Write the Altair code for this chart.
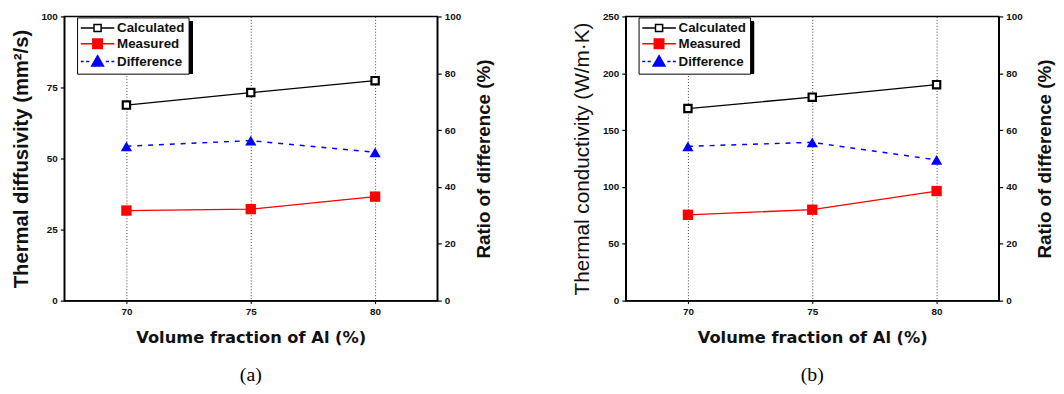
import altair as alt
import pandas as pd

# ---- data ----
vol_frac = [70, 75, 80]
series_names = ["Calculated", "Measured", "Difference"]

a_calculated = [68.8, 73.2, 77.4]
a_measured = [31.7, 32.2, 36.6]
a_difference = [54.3, 56.3, 52.2]

b_calculated = [169, 179, 190]
b_measured = [75.5, 80.0, 96.4]
b_difference = [54.3, 55.7, 49.5]

FONT = "Liberation Sans"
W, H = 378, 288

stroke_range = ["#000000", "#ff0000", "#0000ff"]
fill_range = ["#ffffff", "#ff0000", "#0000ff"]
shape_range = [
    "M-4.25,0 L-1.1,0 M1.1,0 L4.25,0 M-0.9,-0.9 L0.9,-0.9 L0.9,0.9 L-0.9,0.9 Z",
    "M-4.25,0 L-1.2,0 M1.2,0 L4.25,0 M-1.2,-1.2 L1.2,-1.2 L1.2,1.2 L-1.2,1.2 Z",
    "M-4.25,0 L-3.5,0 M-2.9,0 L-2.1,0 M2.1,0 L2.9,0 M3.5,0 L4.25,0 M0,-1.5 L1.5,1.1 L-1.5,1.1 Z",
]


def panel(calc, meas, diff, ymax, ystep, ylabel_step, ytitle, ytitle_weight,
          ytitle_size, caption):
    df = pd.DataFrame({
        "x": vol_frac * 3,
        "v": calc + meas + diff,
        "series": [s for s in series_names for _ in vol_frac],
    })
    base = alt.Chart(df)

    xenc = alt.X(
        "x:Q",
        scale=alt.Scale(domain=[67.5, 82.5], nice=False, zero=False),
        axis=alt.Axis(
            values=vol_frac, grid=True, gridDash=[1, 2], gridColor="#444444",
            gridWidth=1, title="Volume fraction of Al (%)", titleFont="DejaVu Sans",
            titleFontSize=16.5, titleFontWeight="bold", titleColor="#111111",
            titlePadding=13, labelFont=FONT, labelFontSize=10, labelFontWeight="bold",
            labelColor="#111111", labelPadding=3, tickSize=3, tickColor="#000000",
            domainColor="#000000", domainWidth=1.5,
        ),
    )

    left_vals = [i * ystep for i in range(int(round(ymax / ystep)) + 1)]
    yleft = alt.Y(
        "v:Q",
        scale=alt.Scale(domain=[0, ymax], nice=False),
        axis=alt.Axis(
            values=left_vals,
            labelExpr=f"datum.value % {ylabel_step} === 0 ? datum.label : ''",
            title=ytitle, titleFont=FONT, titleFontSize=ytitle_size,
            titleFontWeight=ytitle_weight, titleColor="#111111", titlePadding=10,
            labelFont=FONT, labelFontSize=10, labelFontWeight="bold",
            labelColor="#111111", labelPadding=3, tickSize=4, tickColor="#000000",
            tickWidth=1.2, domainColor="#000000", domainWidth=1.5, grid=False,
        ),
    )
    yright = alt.Y(
        "v:Q",
        scale=alt.Scale(domain=[0, 100], nice=False),
        axis=alt.Axis(
            orient="right", values=list(range(0, 101, 10)),
            labelExpr="datum.value % 20 === 0 ? datum.label : ''",
            title="Ratio of difference (%)", titleAngle=270, titleBaseline="top",
            titleFont=FONT, titleFontSize=19, titleFontWeight="bold",
            titleColor="#111111", titlePadding=14, labelFont=FONT, labelFontSize=10,
            labelFontWeight="bold", labelColor="#111111", labelPadding=3,
            tickSize=4, tickColor="#000000", tickWidth=1.2, domainColor="#000000",
            domainWidth=1.5, grid=False,
        ),
    )

    calc_line = base.transform_filter("datum.series === 'Calculated'").mark_line(
        color="#000000", strokeWidth=1.3).encode(x=xenc, y=yleft)
    calc_pt = base.transform_filter("datum.series === 'Calculated'").mark_point(
        shape="square", size=55, filled=True, fill="#ffffff", stroke="#000000",
        strokeWidth=2.2, opacity=1).encode(x="x:Q", y="v:Q")
    meas_line = base.transform_filter("datum.series === 'Measured'").mark_line(
        color="#ff0000", strokeWidth=1.3).encode(x="x:Q", y="v:Q")
    meas_pt = base.transform_filter("datum.series === 'Measured'").mark_point(
        shape="square", size=110, filled=True, color="#ff0000", opacity=1).encode(
        x="x:Q", y="v:Q")
    diff_line = base.transform_filter("datum.series === 'Difference'").mark_line(
        color="#0000ff", strokeWidth=1.5, strokeDash=[5, 6]).encode(x=xenc, y=yright)
    diff_pt = base.transform_filter("datum.series === 'Difference'").mark_point(
        shape="triangle-up", size=130, filled=True, color="#0000ff", opacity=1).encode(
        x="x:Q", y="v:Q")

    legend_layer = base.transform_filter("false").mark_point(opacity=1).encode(
        stroke=alt.Stroke("series:N", scale=alt.Scale(domain=series_names, range=stroke_range),
                          legend=alt.Legend(title=None)),
        fill=alt.Fill("series:N", scale=alt.Scale(domain=series_names, range=fill_range),
                      legend=alt.Legend(title=None)),
        shape=alt.Shape("series:N", scale=alt.Scale(domain=series_names, range=shape_range),
                        legend=alt.Legend(title=None)),
    )

    # drop shadow behind the legend box
    shadow = base.mark_rect(color="#000000").encode(
        x=alt.value(17), x2=alt.value(130), y=alt.value(5), y2=alt.value(58))

    left = alt.layer(shadow, calc_line, calc_pt, meas_line, meas_pt, legend_layer)
    right = alt.layer(diff_line, diff_pt)
    return alt.layer(left, right).resolve_scale(y="independent").properties(
        width=W, height=H,
        title=alt.TitleParams(caption, orient="bottom", font="Liberation Serif",
                              fontSize=20, fontWeight="normal", color="#000000",
                              offset=20),
    )


pa = panel(a_calculated, a_measured, a_difference, 100, 12.5, 25,
           "Thermal diffusivity (mm²/s)", "bold", 20.5, "(a)")
pb = panel(b_calculated, b_measured, b_difference, 250, 25, 50,
           "Thermal conductivity (W/m·K)", "normal", 21, "(b)")

chart = alt.hconcat(pa, pb, spacing=77).resolve_scale(
    stroke="independent", fill="independent", shape="independent"
).resolve_legend(
    stroke="independent", fill="independent", shape="independent"
).configure(
    padding={"left": 2, "top": 0, "right": 0, "bottom": 0},
    background="#ffffff",
).configure_view(stroke="#000000", strokeWidth=1.5).configure_legend(
    orient="none", legendX=13, legendY=1, padding=4, strokeColor="#000000",
    fillColor="#ffffff", symbolSize=64, symbolStrokeWidth=1.5, symbolOffset=10,
    labelOffset=13, labelFont=FONT, labelFontSize=13.5, labelFontWeight="bold",
    labelColor="#111111", rowPadding=0,
)

chart.save("out.html", embed_options={"renderer": "svg", "actions": False})
